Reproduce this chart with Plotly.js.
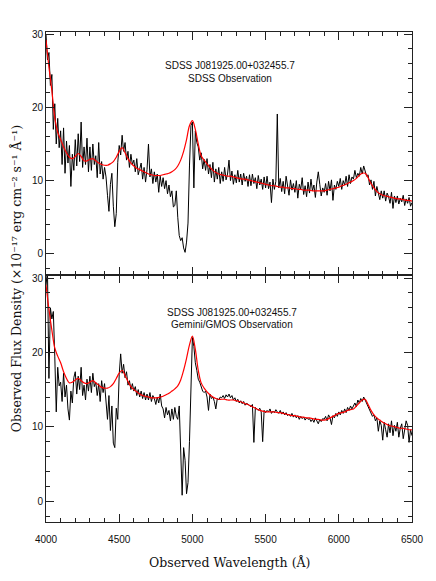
<!DOCTYPE html>
<html>
<head>
<meta charset="utf-8">
<script src="https://cdn.plot.ly/plotly-3.0.1.min.js"></script>
<style>
  html, body { margin: 0; padding: 0; background: #fff; }
  #chart { width: 436px; height: 581px; }
</style>
</head>
<body>
<div id="chart"></div>
<script>
// observed spectra: 4000-6500 A, one value every 10 A
const obsStart = 4000;
const obsStep = 10;

const sdssFlux = [
  30.0, 26.5, 27.5, 23.0, 24.5, 17.0, 20.5, 15.0, 18.5, 14.5,
  16.8, 12.2, 17.2, 11.0, 15.4, 12.4, 14.8, 9.2, 13.6, 11.4,
  15.6, 12.0, 16.4, 12.6, 18.0, 11.8, 14.6, 12.2, 15.8, 11.2,
  14.6, 11.4, 15.0, 12.2, 13.4, 10.4, 15.2, 10.9, 12.6, 10.2,
  11.8, 10.5, 8.0, 5.8, 9.5, 11.0, 6.5, 3.7, 5.5, 12.5,
  14.8, 13.5, 16.2, 14.0, 15.2, 12.8, 14.0, 11.8, 13.6, 12.2,
  12.8, 11.2, 13.0, 10.8, 11.6, 12.4, 10.2, 11.8, 9.8, 11.5,
  15.0, 10.5, 11.6, 9.6, 11.2, 9.8, 10.9, 8.4, 10.6, 9.2,
  10.4, 8.9, 10.0, 8.2, 9.4, 7.8, 8.6, 6.4, 6.6, 8.6,
  5.0, 2.5, 1.8, 2.2, 0.8, 0.2, 1.6, 4.2, 12.0, 17.5,
  18.0, 9.0, 16.8, 15.2, 14.6, 12.8, 13.8, 11.6, 12.9, 11.4,
  13.0, 10.9, 12.2, 10.4, 12.5, 9.8, 11.6, 10.2, 11.8, 9.6,
  11.2, 9.9, 11.8, 10.1, 10.9, 12.8, 10.0, 11.3, 9.5, 10.8,
  9.7, 11.4, 9.8, 10.9, 9.4, 11.0, 9.9, 10.6, 9.2, 10.8,
  9.3, 10.9, 9.6, 10.4, 8.9, 10.7, 9.4, 10.2, 8.8, 10.5,
  9.0, 10.6, 8.9, 9.8, 7.0, 10.2, 8.8, 9.9, 19.1, 9.0,
  10.3, 8.5, 9.9, 8.2, 10.6, 9.0, 8.0, 10.1, 8.7, 9.6,
  8.4, 10.0, 7.6, 9.5, 8.8, 10.4, 8.1, 9.3, 7.8, 9.8,
  8.3, 10.2, 8.6, 9.4, 7.7, 9.8, 11.2, 9.5, 7.9, 9.0,
  8.4, 9.6, 8.0, 9.9, 8.6, 10.1, 7.3, 9.4, 8.8, 9.9,
  9.2, 10.3, 8.8, 10.0, 9.4, 10.6, 9.2, 10.8, 9.6, 10.5,
  10.2, 11.4, 10.4, 11.0, 10.6, 11.8, 10.9, 12.0, 11.2, 10.6,
  10.8, 9.4, 10.1, 8.8, 9.9, 7.9, 9.2, 8.4, 7.4, 8.6,
  7.6, 8.6, 7.2, 8.3, 7.8, 6.9, 8.4, 6.2, 7.9, 7.0,
  7.9, 6.8, 7.6, 7.1, 8.0, 6.6, 7.5, 6.9, 7.7, 6.5,
  7.0
];

const gmosFlux = [
  29.0, 31.0, 16.5, 26.0, 24.5, 25.5, 19.5, 12.0, 18.0, 15.5,
  16.0, 13.4, 17.2, 14.0, 15.6, 12.4, 10.9, 14.8, 13.2, 16.6,
  17.4, 14.4, 16.8, 15.0, 18.0, 14.2, 15.6, 13.6, 16.4, 14.8,
  16.8, 14.6, 17.2, 15.4, 16.0, 14.2, 15.8, 13.4, 16.2, 14.6,
  15.8, 13.6, 11.0, 14.2, 9.5, 12.8, 7.8, 7.2, 12.5, 11.0,
  17.0, 19.8, 17.2, 18.4, 16.6, 17.4, 15.6, 16.2, 15.0, 15.8,
  14.8, 15.4, 14.2, 15.0, 14.0, 14.8, 13.8, 14.6, 13.6, 14.4,
  13.6, 14.6, 13.4, 14.2, 13.8, 13.0, 14.0, 13.2, 14.4, 12.8,
  12.4, 11.2, 12.6, 11.6, 12.2, 10.8, 12.4, 11.0, 12.6, 11.4,
  11.0, 12.8, 5.0, 0.8, 7.2, 5.5, 1.0, 2.5, 8.0, 16.5,
  22.0, 20.8, 18.6, 17.6, 16.4, 16.0, 15.2, 14.8, 14.6, 14.8,
  14.0, 12.2, 14.4, 13.8, 14.0, 13.4, 12.4, 13.8, 13.6, 14.0,
  13.9, 14.2, 13.8, 14.3, 14.0, 14.4, 13.9, 14.2, 13.6, 13.9,
  13.4, 13.7, 13.2, 13.5, 13.1, 13.4, 12.9, 13.2, 13.0, 12.8,
  12.7, 13.0, 7.9, 12.6, 12.4, 12.2, 12.5, 12.0, 8.0, 12.2,
  11.9, 12.2, 12.0, 12.4, 11.8, 12.1, 11.9, 12.3, 12.0, 11.8,
  12.2, 11.7, 12.0, 11.6, 11.9, 11.5, 11.7, 11.4, 11.8, 11.3,
  11.6, 11.2, 11.5, 11.0, 11.4, 11.1, 11.3, 10.9, 11.2, 11.0,
  11.1, 10.7, 11.0, 10.6, 11.2, 10.8, 10.4, 11.0, 10.7, 11.1,
  11.0, 11.4, 10.8, 11.6, 11.2, 10.3, 11.5, 11.2, 11.8, 11.4,
  12.0, 11.6, 12.2, 11.8, 12.4, 11.9, 12.6, 12.2, 12.8, 12.4,
  12.9, 13.2, 12.7, 13.6, 13.2, 13.8, 13.4, 14.0, 13.6, 13.2,
  12.6, 12.2, 12.0, 11.4, 11.6, 10.8, 11.2, 9.4, 10.8, 10.2,
  8.2, 10.6, 9.6, 8.6, 10.4, 9.2, 10.8, 8.8, 10.2, 9.4,
  10.6, 8.6, 9.8, 10.4, 8.4, 10.0, 10.8, 10.2, 7.9, 9.6,
  8.8
];

// model fits: 4000-6500 A, one value every 20 A
const modelStart = 4000;
const modelStep = 20;

const sdssModel = [
  29.2, 25.5, 22.3, 18.6, 16.6, 15.6, 14.6, 13.8, 13.2, 13.0,
  13.3, 13.7, 13.3, 12.7, 12.7, 12.9, 13.0, 12.7, 12.4, 12.2,
  12.1, 12.1, 12.3, 12.6, 13.2, 14.0, 14.5, 13.8, 13.0, 12.4,
  12.0, 11.7, 11.5, 11.3, 11.1, 10.9, 10.8, 10.7, 10.7, 10.7,
  10.8, 10.9, 11.0, 11.2, 11.5, 12.0, 12.8, 14.0, 15.6, 17.5,
  18.2, 17.0, 15.0, 13.4, 12.8, 12.3, 11.8, 11.4, 11.1, 10.9,
  10.8, 10.7, 10.6, 10.6, 10.5, 10.4, 10.3, 10.2, 10.2, 10.1,
  10.0, 9.9, 9.8, 9.7, 9.6, 9.5, 9.4, 9.3, 9.3, 9.2,
  9.1, 9.1, 9.0, 9.0, 8.9, 8.9, 8.8, 8.8, 8.7, 8.7,
  8.7, 8.6, 8.6, 8.6, 8.6, 8.6, 8.7, 8.8, 8.9, 9.0,
  9.1, 9.3, 9.4, 9.6, 9.8, 10.0, 10.3, 10.7, 11.0, 11.0,
  10.4, 9.6, 9.0, 8.5, 8.2, 8.0, 7.9, 7.8, 7.7, 7.6,
  7.5, 7.5, 7.4, 7.3, 7.3, 7.2
];

const gmosModel = [
  29.1, 25.8, 23.0, 20.6, 19.5, 18.6, 17.4, 16.5, 15.9, 16.0,
  16.3, 16.5, 16.2, 15.9, 15.8, 16.0, 16.2, 15.9, 15.6, 15.3,
  15.2, 15.2, 15.4, 15.8, 16.5, 17.2, 17.6, 16.9, 16.1, 15.4,
  15.0, 14.7, 14.4, 14.2, 14.1, 14.0, 13.9, 13.9, 13.9, 14.0,
  14.1, 14.3, 14.5, 14.8, 15.1, 15.5, 16.3, 17.6, 19.2, 21.0,
  22.2, 20.4, 17.6, 15.9, 15.2, 14.7, 14.3, 14.0, 13.8, 13.7,
  13.7, 13.7, 13.6, 13.6, 13.6, 13.5, 13.4, 13.3, 13.1, 13.0,
  12.8, 12.6, 12.4, 12.2, 12.1, 12.0, 12.0, 12.0, 12.0, 11.9,
  11.9, 11.8, 11.7, 11.6, 11.5, 11.5, 11.4, 11.3, 11.3, 11.2,
  11.2, 11.1, 11.0, 11.0, 10.9, 10.9, 11.0, 11.2, 11.4, 11.6,
  11.8, 11.9, 12.0, 12.2, 12.3, 12.4, 12.8, 13.2, 13.6, 13.7,
  13.0, 12.2, 11.6, 11.2, 10.9, 10.6, 10.4, 10.2, 10.1, 10.0,
  9.9, 9.8, 9.8, 9.7, 9.6, 9.6
];

const xTickVals = [4000, 4500, 5000, 5500, 6000, 6500];
const yTickVals = [0, 10, 20, 30];

function waveGrid(start, step, n) {
  const out = [];
  for (let i = 0; i < n; i++) out.push(start + i * step);
  return out;
}

const obsWave = waveGrid(obsStart, obsStep, sdssFlux.length);
const modelWave = waveGrid(modelStart, modelStep, sdssModel.length);

const frameColor = '#222';
const tickFont = { family: 'Liberation Sans, Arial, sans-serif', size: 10, color: '#111' };
const xLabelFont = { family: 'DejaVu Serif, serif', size: 12.5, color: '#111' };
const yLabelFont = { family: 'DejaVu Serif, serif', size: 12.5, color: '#111' };

function xAxis(anchor, showLabels) {
  return {
    anchor: anchor,
    range: [4000, 6500],
    tickvals: xTickVals,
    showticklabels: showLabels,
    ticks: 'inside',
    ticklen: 8,
    tickwidth: 1,
    tickcolor: frameColor,
    ticklabelstandoff: 8,
    minor: { dtick: 100, ticks: 'inside', ticklen: 4, tickwidth: 1, tickcolor: frameColor },
    showline: true,
    linecolor: frameColor,
    linewidth: 1,
    mirror: 'allticks',
    showgrid: false,
    zeroline: false,
    tickfont: tickFont
  };
}

function yAxis(domain, range) {
  return {
    domain: domain,
    range: range,
    tickvals: yTickVals,
    ticks: 'inside',
    ticklen: 8,
    tickwidth: 1,
    tickcolor: frameColor,
    minor: { dtick: 2, ticks: 'inside', ticklen: 4, tickwidth: 1, tickcolor: frameColor },
    showline: true,
    linecolor: frameColor,
    linewidth: 1,
    mirror: 'allticks',
    showgrid: false,
    zeroline: false,
    tickfont: tickFont
  };
}

const traces = [
  {
    x: obsWave, y: sdssFlux, xaxis: 'x2', yaxis: 'y2',
    type: 'scatter', mode: 'lines',
    line: { color: '#000', width: 1 }
  },
  {
    x: modelWave, y: sdssModel, xaxis: 'x2', yaxis: 'y2',
    type: 'scatter', mode: 'lines', line: { color: '#ff0000', width: 1.2, shape: 'spline' }
  },
  {
    x: obsWave, y: gmosFlux, xaxis: 'x', yaxis: 'y',
    type: 'scatter', mode: 'lines',
    line: { color: '#000', width: 1 }
  },
  {
    x: modelWave, y: gmosModel, xaxis: 'x', yaxis: 'y',
    type: 'scatter', mode: 'lines', line: { color: '#ff0000', width: 1.2, shape: 'spline' }
  }
];

const annFont = { family: 'Liberation Sans, Arial, sans-serif', size: 10, color: '#111' };

function note(x, y, text, font) {
  return {
    xref: 'paper', yref: 'paper', x: x, y: y,
    xanchor: 'center', yanchor: 'middle',
    showarrow: false, text: text, font: font
  };
}

const yTitle = note(-0.08, 0.497,
  'Observed Flux Density (×10⁻¹⁷ erg cm⁻² s⁻¹ Å⁻¹)', yLabelFont);
yTitle.textangle = -90;

const layout = {
  width: 436,
  height: 581,
  margin: { l: 46, r: 24, t: 32, b: 59 },
  showlegend: false,
  paper_bgcolor: '#fff',
  plot_bgcolor: '#fff',
  xaxis: xAxis('y', true),
  yaxis: yAxis([0, 0.504], [-2.8, 30.4]),
  xaxis2: Object.assign(xAxis('y2', false), { matches: 'x' }),
  yaxis2: yAxis([0.504, 1], [-2.9, 30.3]),
  annotations: [
    note(0.503, 0.932, 'SDSS J081925.00+032455.7', annFont),
    note(0.503, 0.906, 'SDSS Observation', annFont),
    note(0.508, 0.428, 'SDSS J081925.00+032455.7', annFont),
    note(0.508, 0.403, 'Gemini/GMOS Observation', annFont),
    note(0.5, -0.082, 'Observed Wavelength (Å)', xLabelFont),
    yTitle
  ]
};

Plotly.newPlot('chart', traces, layout, { displayModeBar: false, staticPlot: true });
</script>
</body>
</html>
